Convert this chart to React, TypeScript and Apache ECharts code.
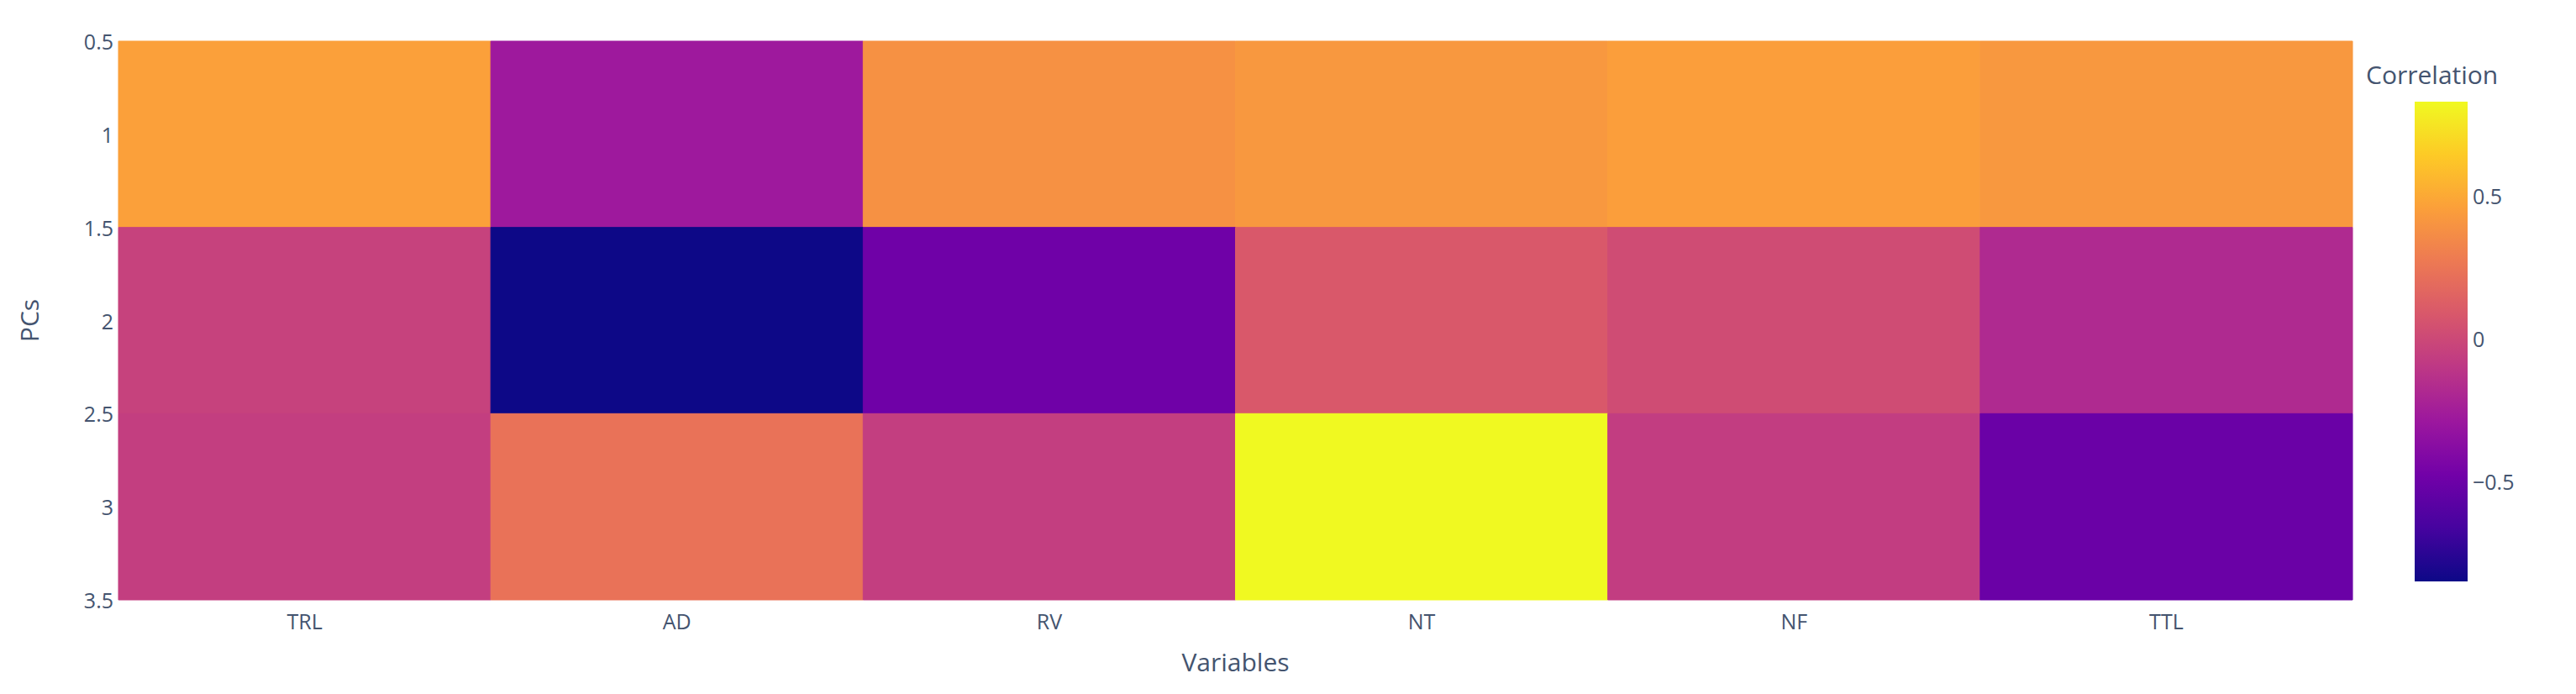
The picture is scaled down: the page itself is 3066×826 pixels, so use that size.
import React, { useEffect, useRef } from "react";
import * as echarts from "echarts";

const variables = ["TRL", "AD", "RV", "NT", "NF", "TTL"];
const pcs = [1, 2, 3];
const pc1Values = [0.46, -0.28, 0.39, 0.42, 0.45, 0.42];
const pc2Values = [-0.04, -0.85, -0.49, 0.09, 0.02, -0.18];
const pc3Values = [-0.06, 0.23, -0.06, 0.83, -0.07, -0.51];
const rows = [pc1Values, pc2Values, pc3Values];
const yTickValues = [0.5, 1, 1.5, 2, 2.5, 3, 3.5];
const colorbarTicks = [-0.5, 0, 0.5];

const plasma = [
  "#0d0887", "#46039f", "#7201a8", "#9c179e", "#bd3786",
  "#d8576b", "#ed7953", "#fb9f3a", "#fdca26", "#f0f921",
];

const FONT = "'Open Sans', Verdana, Arial, sans-serif";
const TXT = "#44546f";

export default function App() {
  const ref = useRef<HTMLDivElement>(null);
  useEffect(() => {
    document.body.style.margin = "0";
    if (!ref.current) return;
    const chart = echarts.init(ref.current, null, { renderer: "svg" });
    const data: number[][] = [];
    rows.forEach((row, r) => row.forEach((v, c) => data.push([c, pcs[r], v])));
    const all = rows.flat();
    const vMin = Math.min(...all);
    const vMax = Math.max(...all);

    const gradStops = plasma.map((c, i) => ({ offset: i / (plasma.length - 1), color: c }));

    chart.setOption({
      animation: false,
      backgroundColor: "#fff",
      textStyle: { fontFamily: FONT },
      grid: [
        { left: 141, top: 49, right: 266, bottom: 112 },
        { left: 2874, top: 121, width: 63, height: 571 },
      ],
      xAxis: [
        {
          type: "category",
          gridIndex: 0,
          data: variables,
          axisLine: { show: false },
          axisTick: { show: false },
          splitLine: { show: false },
          axisLabel: { fontSize: 25, color: TXT, margin: 12, fontFamily: FONT },
          name: "Variables",
          nameLocation: "middle",
          nameGap: 58,
          nameTextStyle: { fontSize: 30, color: TXT, fontFamily: FONT },
        },
        { type: "value", gridIndex: 1, min: 0, max: 1, show: false },
      ],
      yAxis: [
        {
          type: "value",
          gridIndex: 0,
          inverse: true,
          min: 0.5,
          max: 3.5,
          interval: 0.5,
          axisLine: { show: false },
          axisTick: { show: false },
          splitLine: { show: false },
          axisLabel: {
            fontSize: 25,
            color: TXT,
            margin: 6,
            fontFamily: FONT,
            showMinLabel: true,
            showMaxLabel: true,
            customValues: yTickValues,
            formatter: (v: number) => String(v),
          },
          name: "PCs",
          nameLocation: "middle",
          nameRotate: 90,
          nameGap: 92,
          nameTextStyle: { fontSize: 30, color: TXT, fontFamily: FONT },
        },
        {
          type: "value",
          gridIndex: 1,
          position: "right",
          min: vMin,
          max: vMax,
          axisLine: { show: false },
          axisTick: { show: false },
          splitLine: { show: false },
          axisLabel: {
            fontSize: 25,
            color: TXT,
            margin: 6,
            fontFamily: FONT,
            showMinLabel: true,
            showMaxLabel: true,
            customValues: colorbarTicks,
            formatter: (v: number) => (v < 0 ? "\u2212" + Math.abs(v) : String(v)),
          },
          name: "Correlation",
          nameLocation: "end",
          nameGap: 18,
          nameTextStyle: { fontSize: 30, color: TXT, fontFamily: FONT, align: "left", padding: [0, 0, 0, -58] },
        },
      ],
      visualMap: {
        show: false,
        type: "continuous",
        min: vMin,
        max: vMax,
        dimension: 2,
        seriesIndex: 0,
        inRange: { color: plasma },
      },
      series: [
        {
          type: "custom",
          xAxisIndex: 0,
          yAxisIndex: 0,
          data,
          encode: { x: 0, y: 1 },
          renderItem: (params: any, api: any) => {
            const x = api.value(0);
            const y = api.value(1);
            const p1 = api.coord([x, y - 0.5]);
            const p2 = api.coord([x, y + 0.5]);
            const bw = api.size([1, 0])[0];
            const c = api.visual("color");
            return {
              type: "rect",
              shape: {
                x: p1[0] - bw / 2,
                y: Math.min(p1[1], p2[1]),
                width: bw,
                height: Math.abs(p2[1] - p1[1]),
              },
              style: { fill: c, stroke: c, lineWidth: 1 },
            };
          },
        },
        {
          type: "custom",
          xAxisIndex: 1,
          yAxisIndex: 1,
          data: [[0, vMin, vMax]],
          silent: true,
          renderItem: (params: any, api: any) => {
            const a = api.coord([0, vMax]);
            const b = api.coord([1, vMin]);
            return {
              type: "rect",
              shape: { x: a[0], y: a[1], width: b[0] - a[0], height: b[1] - a[1] },
              style: { fill: new echarts.graphic.LinearGradient(0, 1, 0, 0, gradStops) },
            };
          },
        },
      ],
    });
    return () => chart.dispose();
  }, []);
  return <div ref={ref} style={{ width: 3066, height: 826 }} />;
}
